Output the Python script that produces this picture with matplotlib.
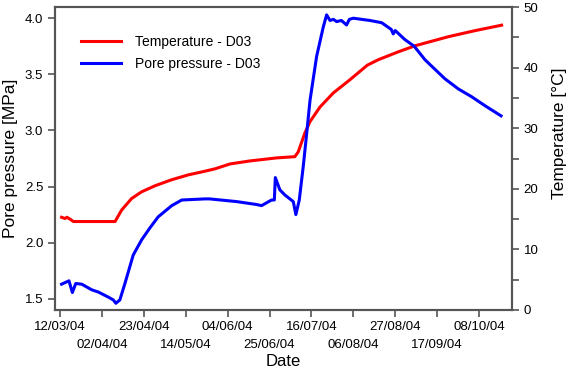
import matplotlib
matplotlib.use("Agg")
import matplotlib.pyplot as plt
import pandas as pd

plt.rcParams["font.family"] = ["Liberation Sans", "DejaVu Sans"]

start = pd.Timestamp("2004-03-12")

# pore pressure D03, days since 12/03/04 and MPa
pp_days = [0.8, 4.5, 6.2, 7.9, 10.9, 15.9, 19.2, 24.2, 26.7, 28, 30, 32.6, 36.7,
           40.9, 45, 49.2, 56, 61, 72.6, 75, 88.5, 98.5, 101, 106, 107.4, 107.9,
           110.2, 112.7, 116.9, 118.2, 119.9, 121.9, 123.6, 125.3, 128.6, 131.9,
           133.6, 135.3, 137, 138.6, 141, 143.6, 145, 147, 155.3, 161.2, 166, 167,
           168, 172.8, 177.5, 182.9, 187, 192.9, 199.6, 206.3, 213, 221]
pp_mpa = [1.63, 1.66, 1.556, 1.636, 1.63, 1.58, 1.56, 1.515, 1.49, 1.46, 1.49, 1.64,
          1.89, 2.025, 2.13, 2.23, 2.33, 2.38, 2.39, 2.39, 2.366, 2.34, 2.33, 2.38,
          2.38, 2.58, 2.47, 2.425, 2.366, 2.25, 2.38, 2.68, 2.97, 3.27, 3.66, 3.92,
          4.03, 3.98, 3.99, 3.97, 3.98, 3.94, 3.99, 4.0, 3.98, 3.96, 3.90, 3.86,
          3.89, 3.81, 3.75, 3.63, 3.56, 3.46, 3.37, 3.30, 3.22, 3.13]

# temperature D03, days since 12/03/04 and degC
temp_days = [0.8, 2.5, 3.5, 5, 6.7, 27.6, 30.9, 35.9, 40.9, 47.6, 56, 64.3, 72.6,
             77.7, 85.2, 95.2, 108.6, 117.7, 119.4, 122.7, 125.3, 130.3, 136.9,
             145.3, 154, 159.5, 169.5, 177.9, 194.6, 208, 221.3]
temp_c = [15.3, 15.1, 15.3, 15.0, 14.6, 14.6, 16.5, 18.4, 19.5, 20.5, 21.5, 22.3,
          22.9, 23.3, 24.1, 24.6, 25.1, 25.3, 26.1, 29.2, 31.1, 33.5, 35.8, 38.0,
          40.4, 41.3, 42.6, 43.6, 45.1, 46.1, 47.0]

tick_labels = ["12/03/04", "02/04/04", "23/04/04", "14/05/04", "04/06/04", "25/06/04",
               "16/07/04", "06/08/04", "27/08/04", "17/09/04", "08/10/04"]

pp_dates = start + pd.to_timedelta(pp_days, unit="D")
temp_dates = start + pd.to_timedelta(temp_days, unit="D")
tick_dates = pd.to_datetime(tick_labels, format="%d/%m/%y")

grey = "#555555"
fig = plt.figure(figsize=(5.68, 3.71), dpi=100)
ax1 = fig.add_axes([55 / 568, 1 - 310 / 371, 457 / 568, 303 / 371])
ax2 = ax1.twinx()
ax1.set_zorder(ax2.get_zorder() + 1)
ax1.patch.set_visible(False)

l2, = ax2.plot(temp_dates, temp_c, color="#ff0000", lw=2.2, label="Temperature - D03")
l1, = ax1.plot(pp_dates, pp_mpa, color="#0000ff", lw=2.2, label="Pore pressure - D03")

ax1.set_xlim(start - pd.Timedelta(days=2.5), start + pd.Timedelta(days=226.5))
ax1.set_ylim(1.40, 4.10)
ax2.set_ylim(0, 50)
ax1.set_yticks([1.5, 2.0, 2.5, 3.0, 3.5, 4.0])
ax1.set_yticklabels(["1.5", "2.0", "2.5", "3.0", "3.5", "4.0"])
ax2.set_yticks(range(0, 51, 10))
ax2.set_yticks(range(5, 50, 10), minor=True)

# staggered date labels: upper row as major ticks, lower row as minor ticks
ax1.set_xticks(tick_dates[::2])
ax1.set_xticklabels(tick_labels[::2])
ax1.set_xticks(tick_dates[1::2], minor=True)
ax1.set_xticklabels(tick_labels[1::2], minor=True)

for ax in (ax1, ax2):
    for s in ax.spines.values():
        s.set_color(grey)
        s.set_linewidth(1.5)
    ax.tick_params(which="both", direction="out", color=grey, width=1.2,
                   length=5, labelsize=9.5, labelcolor="black")
ax1.tick_params(axis="x", which="major", pad=3)
ax1.tick_params(axis="x", which="minor", pad=16)

ax1.set_xlabel("Date", fontsize=12, labelpad=2)
ax1.set_ylabel("Pore pressure [MPa]", fontsize=12.5, labelpad=5)
ax2.set_ylabel("Temperature [°C]", fontsize=12.5)
ax2.yaxis.set_label_coords(1.0875, 0.584)

ax1.legend(handles=[l2, l1], loc="upper left", bbox_to_anchor=(0.03, 0.95),
           frameon=False, fontsize=10, handlelength=2.9, handletextpad=1.0,
           labelspacing=0.6)

fig.savefig("out.png", dpi=100)
